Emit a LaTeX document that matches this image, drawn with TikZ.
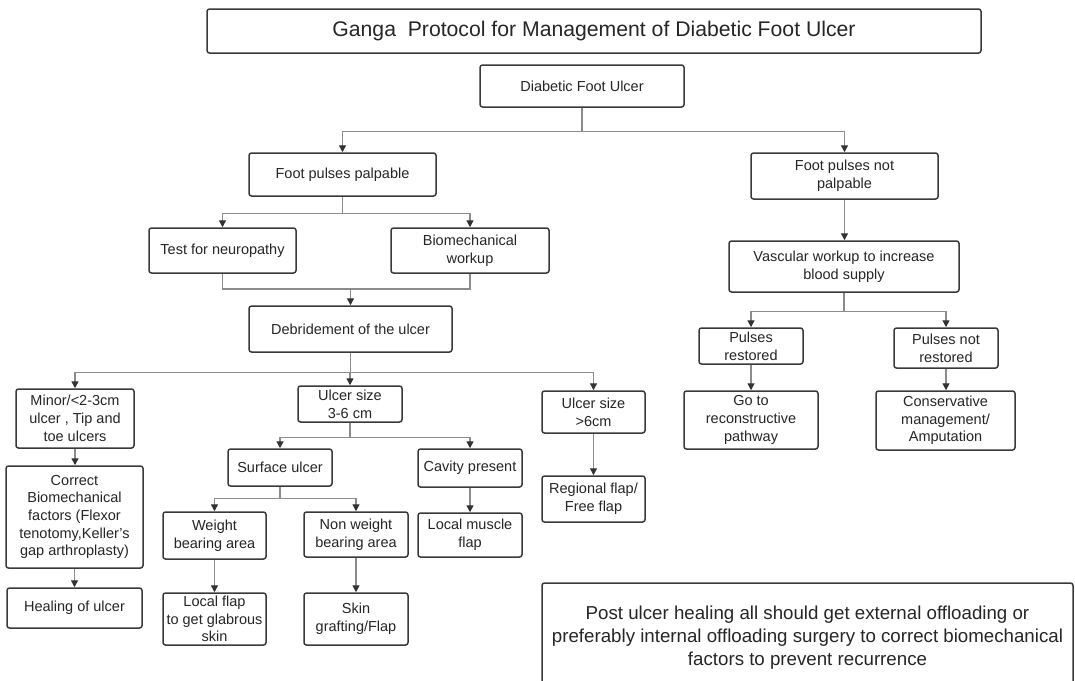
\documentclass[tikz,border=0pt]{standalone}
\usepackage{fontspec}
\setmainfont{Liberation Sans}
\usetikzlibrary{arrows.meta}
\definecolor{boxc}{HTML}{3A3A3A}
\definecolor{txtc}{HTML}{262626}
\definecolor{linec}{HTML}{8C8C8C}
\definecolor{tipc}{HTML}{333333}
\newcommand{\bodyfs}{\fontsize{14.5}{17.7}\selectfont}
\newcommand{\titlefs}{\fontsize{21.2}{25}\selectfont}
\newcommand{\postfs}{\fontsize{18.7}{23}\selectfont}
\newcommand{\mybox}[7][]{\node[box, #1, minimum width={#5-#3}, minimum height={#6-#4}] (#2) at ({(#3+#5)/2},{(#4+#6)/2}) {#7};}
\begin{document}
\begin{tikzpicture}[x=1pt, y=-1pt,
  box/.style={draw=boxc, line width=1.5pt, rounded corners=2.5pt, fill=white, align=center, inner sep=0pt, text=txtc, font=\bodyfs},
  conn/.style={draw=linec, line width=1.4pt},
  arr/.style={conn, -{Triangle[length=7pt, width=7pt, color=tipc]}}]
\clip (0,0) rectangle (1075,680);
\fill[white] (0,0) rectangle (1075,680);

\mybox[font=\titlefs]{title}{207}{9}{981}{53}{Ganga\ \ Protocol for Management of Diabetic Foot Ulcer}
\mybox{dfu}{480}{65}{684}{107}{Diabetic Foot Ulcer}
\mybox{fpp}{249}{153}{436}{196}{Foot pulses palpable}
\mybox{fpnp}{751}{153}{938}{199}{Foot pulses not\\palpable}
\mybox{test}{149}{228}{296}{273}{Test for neuropathy}
\mybox{bio}{391}{228}{549}{273}{Biomechanical\\workup}
\mybox{deb}{249}{306}{452}{352}{Debridement of the ulcer}
\mybox{minor}{16}{389}{134}{448}{Minor/<2-3cm\\ulcer , Tip and\\toe ulcers}
\mybox{u36}{298}{386}{402}{422}{Ulcer size\\3-6 cm}
\mybox{u6}{542}{391}{645}{433}{Ulcer size\\>6cm}
\mybox{correct}{6}{466}{143}{568}{Correct\\Biomechanical\\factors (Flexor\\tenotomy,Keller's\\gap arthroplasty)}
\mybox{heal}{7}{588}{142}{628}{Healing of ulcer}
\mybox{surf}{228}{449}{332}{486}{Surface ulcer}
\mybox{cav}{418}{449}{522}{487}{Cavity present}
\mybox{wb}{163}{512}{266}{559}{Weight\\bearing area}
\mybox{nwb}{304}{512}{408}{557}{Non weight\\bearing area}
\mybox{lmf}{418}{513}{522}{557}{Local muscle\\flap}
\mybox{lf}{163}{593}{266}{645}{Local flap\\to get glabrous\\skin}
\mybox{skin}{304}{593}{408}{645}{Skin\\grafting/Flap}
\mybox{reg}{542}{476}{645}{522}{Regional flap/\\Free flap}
\mybox{vasc}{729}{241}{959}{292}{Vascular workup to increase\\blood supply}
\mybox{pr}{699}{328}{803}{364}{Pulses\\restored}
\mybox{pnr}{894}{328}{998}{368}{Pulses not\\restored}
\mybox{goto}{684}{391}{818}{449}{Go to\\reconstructive\\pathway}
\mybox{cons}{876}{391}{1015}{450}{Conservative\\management/\\Amputation}
\mybox[font=\postfs]{post}{542}{583}{1073}{692}{Post ulcer healing all should get external offloading or\\preferably internal offloading surgery to correct biomechanical\\factors to prevent recurrence}

% connectors
\draw[arr] (dfu.south) -- ++(0,24) -| (fpp.north);
\draw[arr] (dfu.south) -- ++(0,24) -| (fpnp.north);
\draw[arr] (fpp.south) -- ++(0,17) -| (test.north);
\draw[arr] (fpp.south) -- ++(0,17) -| (bio.north);
\coordinate (m1) at (350.5,289);
\draw[conn] (test.south) |- (m1) -| (bio.south);
\draw[arr] (m1) -- (deb.north);
\draw[arr] (deb.south) -- ++(0,20) -| (minor.north);
\draw[arr] (deb.south) -- ++(0,20) -| (u36.north);
\draw[arr] (deb.south) -- ++(0,20) -| (u6.north);
\draw[arr] (minor.south) -- (minor.south |- correct.north);
\draw[arr] (correct.south) -- (correct.south |- heal.north);
\draw[arr] (u36.south) -- ++(0,15) -| (surf.north);
\draw[arr] (u36.south) -- ++(0,15) -| (cav.north);
\draw[arr] (surf.south) -- ++(0,12) -| (wb.north);
\draw[arr] (surf.south) -- ++(0,12) -| (nwb.north);
\draw[arr] (cav.south) -- (lmf.north);
\draw[arr] (wb.south) -- (lf.north);
\draw[arr] (nwb.south) -- (skin.north);
\draw[arr] (u6.south) -- (reg.north);
\draw[arr] (fpnp.south) -- (fpnp.south |- vasc.north);
\draw[arr] (vasc.south) -- ++(0,19) -| (pr.north);
\draw[arr] (vasc.south) -- ++(0,19) -| (pnr.north);
\draw[arr] (pr.south) -- (pr.south |- goto.north);
\draw[arr] (pnr.south) -- (pnr.south |- cons.north);
\end{tikzpicture}
\end{document}
